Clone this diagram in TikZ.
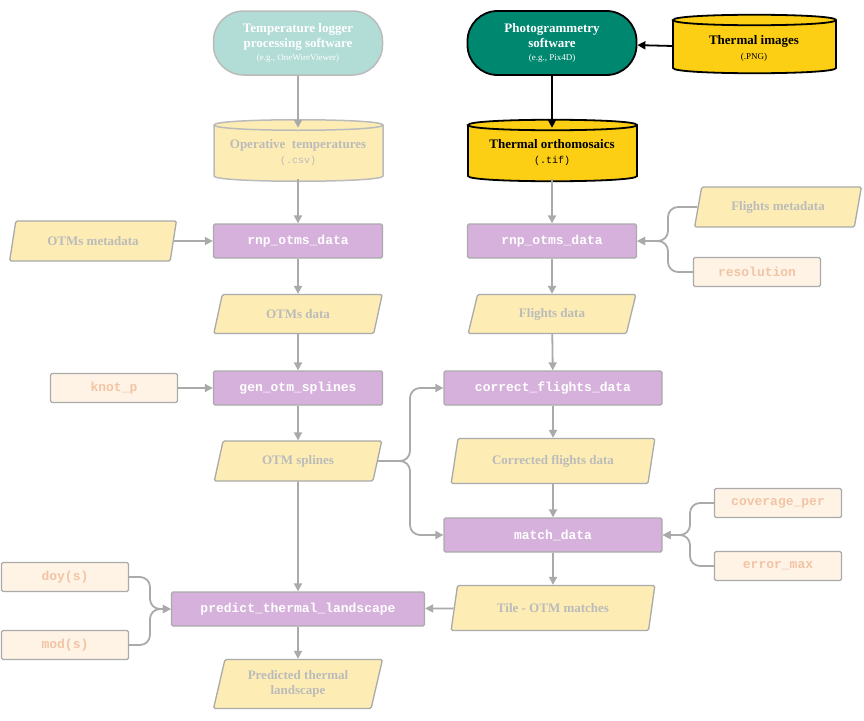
\documentclass[tikz,border=0pt]{standalone}
\usepackage{fontspec}
\setmainfont{Liberation Serif}
\setmonofont{Liberation Mono}
\usetikzlibrary{shapes.geometric,arrows.meta}
\definecolor{gr}{HTML}{AAAAAA}
\definecolor{tealL}{HTML}{B2DCD6}
\definecolor{tealD}{HTML}{00876F}
\definecolor{yelB}{HTML}{FCCF14}
\definecolor{yelP}{HTML}{FDEDB4}
\definecolor{purp}{HTML}{D5B1DB}
\definecolor{peach}{HTML}{FEF3E4}
\definecolor{peachT}{HTML}{F2C4A6}
\definecolor{txtG}{HTML}{BBBBBB}
\newcommand{\mycyl}[7]{% x1 x2 ty by fill draw
  \fill[#5] (#1,#3) -- (#1,#4) .. controls (#1,#4+7) and (#2,#4+7) .. (#2,#4) -- (#2,#3) -- cycle;
  \fill[#5] (#1,#3) .. controls (#1,#3-7) and (#2,#3-7) .. (#2,#3) .. controls (#2,#3+7) and (#1,#3+7) .. (#1,#3);
  \draw[#6,line width=#7] (#1,#3) -- (#1,#4) .. controls (#1,#4+7) and (#2,#4+7) .. (#2,#4) -- (#2,#3)
     .. controls (#2,#3-7) and (#1,#3-7) .. (#1,#3) .. controls (#1,#3+7) and (#2,#3+7) .. (#2,#3);}
\begin{document}
\begin{tikzpicture}[x=1pt,y=-1pt,
  fn/.style={draw=gr,line width=1.3pt,fill=purp,rounded corners=1.5pt,minimum height=34pt,text=white,font=\ttfamily\bfseries\fontsize{13}{15}\selectfont},
  dat/.style={trapezium,trapezium left angle=76,trapezium right angle=104,trapezium stretches=true,draw=gr,line width=1.3pt,fill=yelP,rounded corners=1.5pt,text=txtG,font=\bfseries\fontsize{13}{15}\selectfont,align=center},
  par/.style={draw=gr,line width=1.3pt,fill=peach,rounded corners=1.5pt,minimum width=127pt,minimum height=29pt,text=peachT,font=\ttfamily\bfseries\fontsize{13}{15}\selectfont},
  ar/.style={draw=gr,line width=1.8pt,-{Triangle[length=8pt,width=8pt]},rounded corners=10pt},
  bar/.style={draw=black,line width=1.8pt,-{Triangle[length=8pt,width=8pt]}}]
\useasboundingbox (0,0) rectangle (864,720);
% soft
\node[draw=gr!80,line width=1.5pt,fill=tealL,rounded corners=30pt,minimum width=169pt,minimum height=64pt,text=white,align=center,font=\bfseries\fontsize{13}{15}\selectfont] (tl) at (298,43) {Temperature logger\\processing software\\[-2pt]{\mdseries\fontsize{9}{10}\selectfont (e.g., OneWireViewer)}};
\node[draw=black,line width=1.8pt,fill=tealD,rounded corners=30pt,minimum width=169pt,minimum height=64pt,text=white,align=center,font=\bfseries\fontsize{13}{15}\selectfont] (pg) at (552,43) {Photogrammetry\\software\\[-2pt]{\mdseries\fontsize{9}{10}\selectfont (e.g., Pix4D)}};
% cylinders
\mycyl{214}{383}{125}{176}{yelP}{gr!80}{1.5pt}
\node[align=center,text=txtG,font=\bfseries\fontsize{13}{15}\selectfont,minimum width=169pt,minimum height=50pt] (ot) at (298,153) {Operative\ \ temperatures\\{\mdseries\ttfamily\fontsize{10}{12}\selectfont (.csv)}};
\mycyl{468}{637}{125}{176}{yelB}{black}{1.8pt}
\node[align=center,font=\bfseries\fontsize{13}{15}\selectfont,minimum width=169pt,minimum height=50pt] (tor) at (552,153) {Thermal orthomosaics\\{\mdseries\ttfamily\fontsize{10}{12}\selectfont (.tif)}};
\mycyl{673}{836}{20}{68}{yelB}{black}{1.8pt}
\node[align=center,font=\bfseries\fontsize{13}{15}\selectfont,minimum width=163pt,minimum height=48pt] (ti) at (754,48) {Thermal images\\{\mdseries\fontsize{9}{10}\selectfont (.PNG)}};
% functions
\node[fn,minimum width=169pt] (rl) at (298,241) {rnp\_otms\_data};
\node[fn,minimum width=169pt] (rr) at (552,241) {rnp\_otms\_data};
\node[fn,minimum width=169pt] (gs) at (298,388) {gen\_otm\_splines};
\node[fn,minimum width=218pt] (cf) at (553,388) {correct\_flights\_data};
\node[fn,minimum width=218pt] (md) at (553,535) {match\_data};
\node[fn,minimum width=253pt] (pt) at (298,609) {predict\_thermal\_landscape};
% data
\node[dat,minimum width=167pt,minimum height=40pt] (om) at (93,241) {OTMs metadata};
\node[dat,minimum width=167pt,minimum height=40pt] (fm) at (778,207) {Flights metadata};
\node[dat,minimum width=169pt,minimum height=39pt] (od) at (298,314) {OTMs data};
\node[dat,minimum width=169pt,minimum height=39pt] (fd) at (552,314) {Flights data};
\node[dat,minimum width=169pt,minimum height=40pt] (os) at (298,461) {OTM splines};
\node[dat,minimum width=204pt,minimum height=45pt] (cd) at (553,461) {Corrected flights data};
\node[dat,minimum width=204pt,minimum height=45pt] (tm) at (553,608) {Tile - OTM matches};
\node[dat,minimum width=169pt,minimum height=49pt] (pl) at (298,684) {Predicted thermal\\landscape};
% params
\node[par] (res) at (757,272) {resolution};
\node[par] (kp) at (114,388) {knot\_p};
\node[par] (cp) at (778,503) {coverage\_per};
\node[par] (em) at (778,566) {error\_max};
\node[par] (doy) at (65,577) {doy(s)};
\node[par] (mod) at (65,645) {mod(s)};
% arrows
\draw[bar] (ti) -- (pg);
\draw[bar] (pg) -- (tor);
\draw[ar] (tl) -- (ot);
\draw[ar] (298,179) -- (rl);
\draw[ar] (om) -- (rl);
\draw[ar] (rl) -- (od);
\draw[ar] (od) -- (gs);
\draw[ar] (kp) -- (gs);
\draw[ar] (gs) -- (os);
\draw[ar] (os) -- (pt);
\draw[ar] (pt) -- (pl);
\draw[ar] (552,179) -- (rr);
\draw[ar] (rr) -- (fd);
\draw[ar] (fd) -- (cf);
\draw[ar] (cf) -- (cd);
\draw[ar] (cd) -- (md);
\draw[ar] (md) -- (tm);
\draw[ar] (tm) -- (pt);
\draw[ar] (os.east) -- (410,461) -- (410,388) -- (cf.west);
\draw[ar] (os.east) -- (410,461) -- (410,535) -- (md.west);
\draw[ar] (fm.west) -- (668,207) -- (668,241) -- (rr.east);
\draw[ar] (res.west) -- (668,272) -- (668,241) -- (rr.east);
\draw[ar] (cp.west) -- (690,503) -- (690,535) -- (md.east);
\draw[ar] (em.west) -- (690,566) -- (690,535) -- (md.east);
\draw[ar] (doy.east) -- (150,577) -- (150,609) -- (pt.west);
\draw[ar] (mod.east) -- (150,645) -- (150,609) -- (pt.west);
\end{tikzpicture}
\end{document}
